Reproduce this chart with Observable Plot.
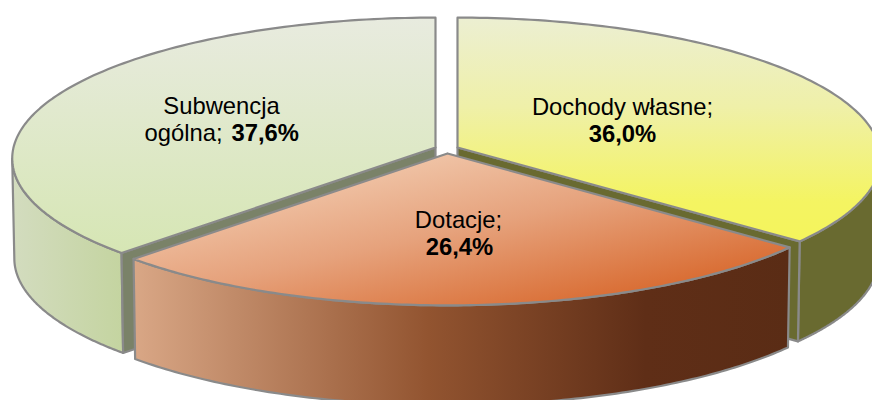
<!DOCTYPE html>
<html>
<head>
<meta charset="utf-8">
<style>html,body{margin:0;padding:0;background:#fff;overflow:hidden}</style>
<script src="https://cdn.jsdelivr.net/npm/d3@7"></script>
<script src="https://cdn.jsdelivr.net/npm/@observablehq/plot@0.6"></script>
</head>
<body>
<div id="chart"></div>
<script>
// Data, clockwise from twelve o'clock
const categories = ["Dochody własne", "Dotacje", "Subwencja ogólna"];
const shares = [36.0, 26.4, 37.6];

// Pie projection (perspective view of a tilted disc)
const centerX = 446, centerY = 147, radiusX = 422, radiusY = 140, tilt = 0.078, depth = 100, bottomShrink = 0.995;
const explodeX = [11, 1, -11];
const explodeY = [0, 6, 0];
const topFills = ["url(#topYellow)", "url(#topOrange)", "url(#topGreen)"];
const sideFills = ["#696a30", "url(#sideOrange)", "url(#sideGreen)"];
const wallFills = ["#696a30", "#5b2c15", "#7a8268"];
const edge = "#8a8a8a";

const total = d3.sum(shares);
const cumulative = d3.cumsum(shares);
const angleAt = (s) => Math.PI / 2 - (s / total) * 2 * Math.PI;

function rimPoint(i, theta, lower) {
  const u = Math.cos(theta), v = Math.sin(theta), w = 1 + tilt * v;
  const sx = lower ? bottomShrink : 1;
  return {
    x: centerX + explodeX[i] + sx * radiusX * u / w,
    y: centerY + explodeY[i] + (lower ? depth : 0) - radiusY * v / w
  };
}
const arc = (i, a0, a1, lower) =>
  d3.range(0, 121).map((k) => rimPoint(i, a0 + (a1 - a0) * k / 120, lower));
const apex = (i, lower) => ({x: centerX + explodeX[i], y: centerY + explodeY[i] + (lower ? depth : 0)});
const closed = (pts) => [...pts, pts[0]];

const startAngle = (i) => angleAt(i === 0 ? 0 : cumulative[i - 1]);
const endAngle = (i) => angleAt(cumulative[i]);
const frontLimit = Math.asin(tilt);

const topFace = (i) => closed([apex(i, false), ...arc(i, startAngle(i), endAngle(i), false)]);
function sideFace(i, a0, a1) {
  return closed([...arc(i, a0, a1, false), ...arc(i, a1, a0, true)]);
}
const wall = (i, theta) => closed([apex(i, false), rimPoint(i, theta, false), rimPoint(i, theta, true), apex(i, true)]);

const poly = (pts, fill, stroke = edge, strokeWidth = 2.2) =>
  Plot.line(pts, {x: "x", y: "y", fill, stroke, strokeWidth, strokeLinejoin: "round", curve: "linear"});

function gradient(defs, id, x1, y1, x2, y2, stops) {
  const g = defs.append("linearGradient").attr("id", id)
    .attr("x1", x1).attr("y1", y1).attr("x2", x2).attr("y2", y2);
  stops.forEach(([o, c]) => g.append("stop").attr("offset", o).attr("stop-color", c));
}

const defsMark = () => {
  const defs = d3.create("svg:defs");
  gradient(defs, "topGreen", 0, 0, 0, 1, [[0, "#e8ebdf"], [1, "#d6e6b4"]]);
  gradient(defs, "topYellow", 0, 0, 0, 1, [[0, "#ecefd2"], [0.4, "#eff0a8"], [0.82, "#f4f462"], [1, "#f4f45c"]]);
  gradient(defs, "topOrange", 0.2, 0.22, 0.82, 0.88, [[0, "#f0c5a8"], [0.45, "#e6a27c"], [1, "#d96c32"]]);
  gradient(defs, "sideGreen", 0, 0, 1, 0, [[0, "#d3dcbf"], [1, "#c4d4a0"]]);
  gradient(defs, "sideOrange", 0, 0, 1, 0, [[0, "#d9a786"], [0.45, "#925430"], [0.78, "#5f2e17"], [1, "#5a2c15"]]);
  return defs.node();
};

// Labels
const fmt = (v) => v.toFixed(1).replace(".", ",") + "%";
const labelFont = {fontSize: 23.8, fill: "#000", fontFamily: "Liberation Sans, Arial, sans-serif"};
const plain = [
  {t: "Dochody własne;", x: 622, y: 106.5, a: "middle"},
  {t: "Dotacje;", x: 458, y: 220, a: "middle"},
  {t: "Subwencja", x: 221, y: 106, a: "middle"},
  {t: "ogólna;", x: 222, y: 133, a: "end"}
];
const bold = [
  {t: fmt(shares[0]), x: 622, y: 133.5, a: "middle"},
  {t: fmt(shares[1]), x: 459, y: 247, a: "middle"},
  {t: fmt(shares[2]), x: 231, y: 133, a: "start"}
];
const textMarks = (rows, fontWeight) => ["start", "middle", "end"].map((a) =>
  Plot.text(rows.filter((d) => d.a === a), {x: "x", y: "y", text: "t", textAnchor: a, lineAnchor: "middle", fontWeight, ...labelFont}));

const chart = Plot.plot({
  width: 872,
  height: 400,
  margin: 0,
  x: {domain: [0, 872], range: [0, 872], axis: null},
  y: {domain: [0, 400], range: [0, 400], axis: null},
  style: {background: "#fff"},
  marks: [
    defsMark,
    poly(sideFace(2, -Math.PI + frontLimit, endAngle(1)), sideFills[2]),
    poly(wall(2, endAngle(1)), wallFills[2]),
    poly(topFace(2), topFills[2]),
    poly(sideFace(0, endAngle(0), -frontLimit), sideFills[0]),
    poly(wall(0, endAngle(0)), wallFills[0]),
    poly(topFace(0), topFills[0]),
    poly(sideFace(1, endAngle(1), endAngle(0)), sideFills[1]),
    poly(topFace(1), topFills[1]),
    ...textMarks(plain, "normal"),
    ...textMarks(bold, "bold")
  ]
});
document.getElementById("chart").appendChild(chart);
</script>
</body>
</html>
